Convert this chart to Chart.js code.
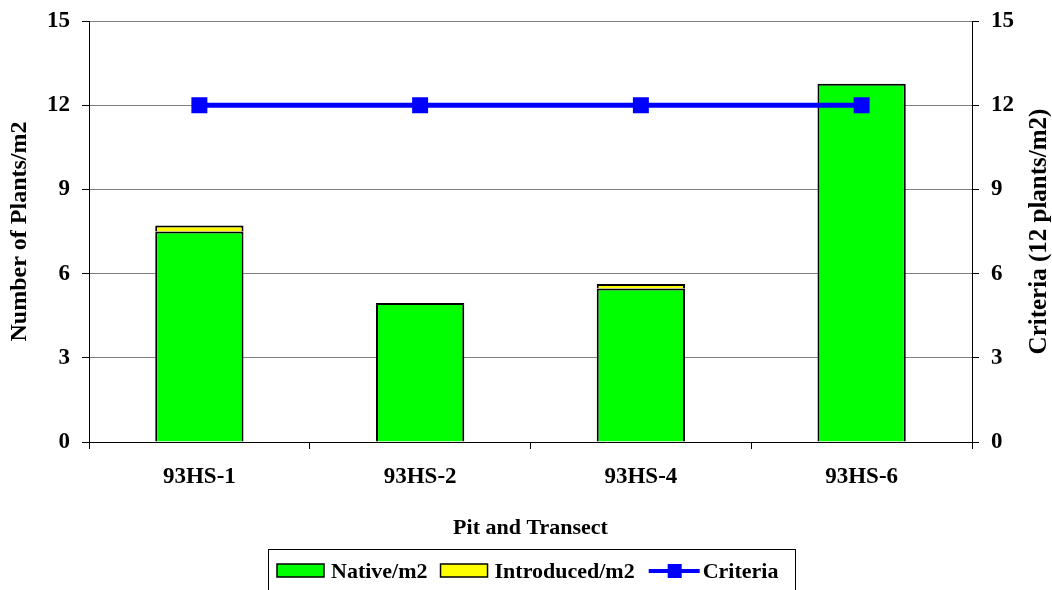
<!DOCTYPE html>
<html>
<head>
<meta charset="utf-8">
<script src="https://cdn.jsdelivr.net/npm/chart.js@4/dist/chart.umd.min.js"></script>
<style>
    html, body { margin: 0; padding: 0; background: #fff; }
    #wrap { width: 1052px; height: 590px; position: relative; }
</style>
</head>
<body>
<div id="wrap"><canvas id="plantChart"></canvas></div>
<script>
const pits = ['93HS-1', '93HS-2', '93HS-4', '93HS-6'];
const nativeValues = [7.5, 4.95, 5.47, 12.76];
const introducedValues = [0.21, 0, 0.16, 0];
const criteriaValues = [12, 12, 12, 12];
const yTicks = [0, 3, 6, 9, 12, 15];

const fontFamily = "'Liberation Serif', 'Times New Roman', serif";

// judul sumbu kanan dibaca dari bawah ke atas, jadi digambar sendiri
const rightTitlePlugin = {
    id: 'rightTitle',
    afterDraw: function (chart) {
        const ctx = chart.ctx;
        const area = chart.chartArea;
        ctx.save();
        ctx.translate(1040, (area.top + area.bottom) / 2);
        ctx.rotate(-Math.PI / 2);
        ctx.font = 'bold 25px ' + fontFamily;
        ctx.fillStyle = '#000';
        ctx.textAlign = 'center';
        ctx.textBaseline = 'middle';
        ctx.fillText('Criteria (12 plants/m2)', 0, 0);
        ctx.restore();
    }
};

// legenda dengan kotak, seperti di gambar asli
const boxLegendPlugin = {
    id: 'boxLegend',
    afterDraw: function (chart) {
        const ctx = chart.ctx;
        const sets = chart.data.datasets;
        const midY = 571;
        ctx.save();
        ctx.strokeStyle = '#000';
        ctx.lineWidth = 1;
        ctx.strokeRect(268.5, 549.5, 527, 50);

        ctx.font = 'bold 22px ' + fontFamily;
        ctx.textBaseline = 'middle';
        ctx.textAlign = 'left';
        let x = 277;
        [1, 2, 0].forEach(i => {
            const ds = sets[i];
            if (ds.type === 'line') {
                ctx.strokeStyle = ds.borderColor;
                ctx.lineWidth = 4;
                ctx.beginPath();
                ctx.moveTo(x + 1, midY);
                ctx.lineTo(x + 52, midY);
                ctx.stroke();
                ctx.fillStyle = ds.pointBackgroundColor;
                ctx.fillRect(x + 20, midY - 7, 14, 14);
                x += 55;
            } else {
                ctx.fillStyle = ds.backgroundColor;
                ctx.fillRect(x, 564, 47, 13);
                ctx.strokeStyle = '#000';
                ctx.lineWidth = 1.5;
                ctx.strokeRect(x, 564, 47, 13);
                x += 54;
            }
            ctx.fillStyle = '#000';
            ctx.fillText(ds.label, x, midY + 1);
            x += ctx.measureText(ds.label).width + 13;
        });
        ctx.restore();
    }
};

const tickFont = { family: fontFamily, size: 23, weight: 'bold' };
const titleFont = { family: fontFamily, size: 22, weight: 'bold' };

// lebar sumbu dipatok supaya area plot sama dengan aslinya
function fixVertical(width) {
    return function (scale) {
        scale.width = width;
        scale.paddingTop = 0;
        scale.paddingBottom = 0;
    };
}

new Chart(document.getElementById('plantChart'), {
    data: {
        labels: pits,
        datasets: [
            {
                type: 'line',
                label: 'Criteria',
                data: criteriaValues,
                yAxisID: 'y2',
                borderColor: '#0000FF',
                borderWidth: 5,
                pointStyle: 'rect',
                pointRadius: 11.3,
                pointBackgroundColor: '#0000FF',
                pointBorderWidth: 0,
                order: 0
            },
            {
                type: 'bar',
                label: 'Native/m2',
                data: nativeValues,
                backgroundColor: '#00FF00',
                borderColor: '#000',
                borderWidth: 2,
                order: 1
            },
            {
                type: 'bar',
                label: 'Introduced/m2',
                data: introducedValues,
                backgroundColor: '#FFFF00',
                borderColor: '#000',
                borderWidth: 2,
                order: 1
            }
        ]
    },
    options: {
        responsive: true,
        maintainAspectRatio: false,
        animation: false,
        datasets: {
            bar: { barPercentage: 0.4, categoryPercentage: 1 }
        },
        layout: {
            padding: { top: 21, bottom: 48, left: 0, right: 0 }
        },
        plugins: {
            legend: { display: false },
            tooltip: { enabled: false }
        },
        scales: {
            x: {
                stacked: true,
                grid: {
                    drawOnChartArea: false,
                    tickLength: 7,
                    tickColor: '#000'
                },
                border: { color: '#000', width: 1 },
                ticks: { color: '#000', font: tickFont, padding: 14 },
                title: {
                    display: true,
                    text: 'Pit and Transect',
                    color: '#000',
                    font: titleFont,
                    padding: { top: 6, bottom: 0 }
                },
                afterFit: function (scale) {
                    scale.height = 100;
                    scale.paddingLeft = 0;
                    scale.paddingRight = 0;
                }
            },
            y: {
                stacked: true,
                min: 0,
                max: 15,
                afterBuildTicks: function (scale) {
                    scale.ticks = yTicks.map(v => ({ value: v }));
                },
                grid: {
                    color: ctx => ctx.tick && ctx.tick.value === 0 ? '#000' : '#808080',
                    tickLength: 7,
                    tickColor: '#000'
                },
                border: { color: '#000', width: 1 },
                ticks: { color: '#000', font: tickFont, padding: 12 },
                title: {
                    display: true,
                    text: 'Number of Plants/m2',
                    color: '#000',
                    font: { family: fontFamily, size: 24, weight: 'bold' },
                    padding: { top: 5, bottom: 0 }
                },
                afterFit: fixVertical(89)
            },
            y2: {
                position: 'right',
                min: 0,
                max: 15,
                afterBuildTicks: function (scale) {
                    scale.ticks = yTicks.map(v => ({ value: v }));
                },
                grid: {
                    drawOnChartArea: false,
                    tickLength: 7,
                    tickColor: '#000'
                },
                border: { color: '#000', width: 1 },
                ticks: { color: '#000', font: tickFont, padding: 12 },
                afterFit: fixVertical(80)
            }
        }
    },
    plugins: [rightTitlePlugin, boxLegendPlugin]
});
</script>
</body>
</html>
